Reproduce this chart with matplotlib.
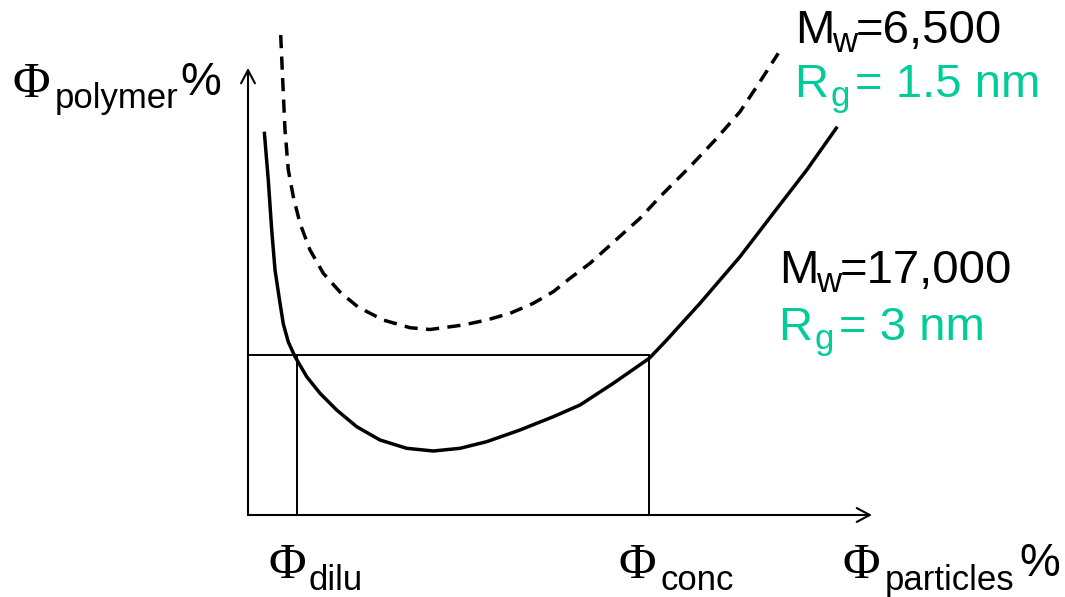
import matplotlib
matplotlib.use("Agg")
import matplotlib.pyplot as plt
from matplotlib.transforms import Affine2D
from matplotlib.patches import FancyArrowPatch

# ---- data (schematic phase diagram, arbitrary % units) ----
solid_x = [2.61, 3.25, 3.80, 4.33, 5.05, 5.66, 6.46, 7.53, 9.41, 11.54, 14.21, 17.42,
           21.15, 25.43, 29.70, 33.97, 38.25, 43.59, 48.93, 53.21, 58.54, 64.31, 67.10,
           72.44, 78.85, 84.18, 89.54, 94.44]
solid_y = [85.75, 74.94, 63.76, 54.81, 48.10, 42.73, 38.70, 35.42, 30.94, 27.23, 23.49,
           19.75, 16.78, 14.92, 14.32, 14.92, 16.40, 19.02, 21.99, 24.61, 29.46, 35.06,
           39.15, 47.36, 57.79, 67.49, 77.18, 86.87]

dashed_x = [5.24, 5.56, 5.93, 6.46, 7.26, 8.33, 9.94, 12.07, 14.74, 17.63, 21.68, 25.96,
            29.17, 34.50, 38.25, 41.99, 45.72, 48.93, 51.60, 54.81, 57.48, 60.14, 62.82,
            66.03, 70.83, 75.11, 78.85, 82.05, 84.98]
dashed_y = [107.38, 97.32, 86.13, 77.18, 71.21, 65.26, 59.28, 54.07, 49.89, 46.53, 43.62,
            41.90, 41.50, 42.51, 43.62, 45.12, 47.36, 49.96, 52.95, 56.31, 59.66, 63.02,
            66.37, 71.21, 77.92, 84.27, 90.22, 96.94, 103.29]

phi_dilu = 7.85
phi_conc = 64.3
phi_coex = 35.8

label_low_mw = ("M", "w", "=6,500")
label_low_rg = ("R", "g", "= 1.5 nm")
label_high_mw = ("M", "w", "=17,000")
label_high_rg = ("R", "g", "= 3 nm")

GREEN = "#00CC99"
W, H = 1065, 597

fig = plt.figure(figsize=(W / 100, H / 100), dpi=100)
# axes: origin at pixel (248, 515), x-tip at 872, y-tip at 68
x0, y0, x1, y1 = 248, 515, 872, 68
ax = fig.add_axes([x0 / W, (H - y0) / H, (x1 - x0) / W, (y0 - y1) / H])
ax.set_xlim(0, 100)
ax.set_ylim(0, 100)
ax.axis("off")

ax.plot(solid_x, solid_y, color="black", lw=2.5, clip_on=False,
        solid_capstyle="butt", solid_joinstyle="round")
ax.plot(dashed_x, dashed_y, color="black", lw=2.5, clip_on=False,
        linestyle=(0, (3.8, 2.4)), dash_capstyle="butt", dash_joinstyle="round")

ax.plot([0, phi_conc], [phi_coex, phi_coex], color="black", lw=1.4, clip_on=False)
ax.plot([phi_dilu, phi_dilu], [0, phi_coex], color="black", lw=1.4, clip_on=False)
ax.plot([phi_conc, phi_conc], [0, phi_coex], color="black", lw=1.4, clip_on=False)

for start, end in [((0, 0), (0, 1)), ((0, 0), (1, 0))]:
    arr = FancyArrowPatch(start, end, transform=ax.transAxes,
                          arrowstyle="->,head_length=0.47,head_width=0.25",
                          mutation_scale=20, lw=1.5, color="black",
                          shrinkA=0, shrinkB=0, clip_on=False)
    ax.add_patch(arr)

pix = Affine2D().scale(1 / W, -1 / H).translate(0, 1) + fig.transFigure

SERIF = "Liberation Serif"
SANS = "Liberation Sans"

def t(x, y, s, size, family=SANS, color="black"):
    fig.text(x, y, s, transform=pix, fontsize=size, family=family, color=color,
             ha="left", va="baseline")

# y-axis label
t(13, 97, "Φ", 37, SERIF)
t(55, 108, "polymer", 25)
t(180, 95, "%", 33)

# x labels
t(268, 578, "Φ", 37, SERIF)
t(308, 590, "dilu", 25)
t(619, 578, "Φ", 37, SERIF)
t(661, 590, "conc", 25)
t(843, 578, "Φ", 37, SERIF)
t(885, 590, "particles", 25)
t(1019, 576, "%", 33)

# curve labels
def label(x, y, parts, color):
    a, b, c = parts
    t(x, y, a, 34, color=color)
    t(x + 37, y + 9, b, 25, color=color)
    t(x + 61, y, c, 34, color=color)

label(795, 43, label_low_mw, "black")
label(794, 97, label_low_rg, GREEN)
label(779, 283, label_high_mw, "black")
label(778, 340, label_high_rg, GREEN)

fig.savefig("out.png", dpi=100)
